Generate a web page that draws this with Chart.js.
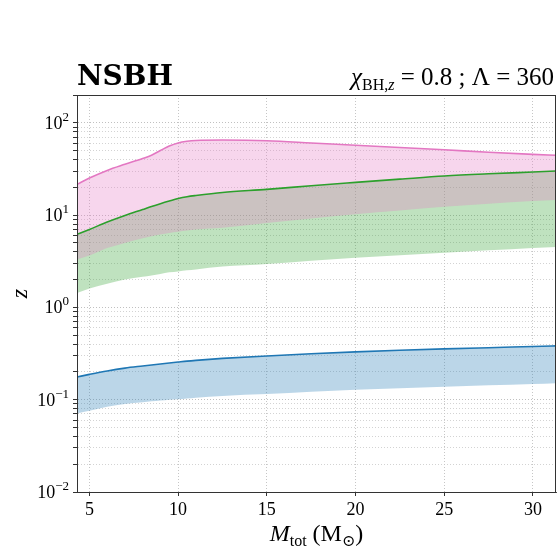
<!DOCTYPE html>
<html>
<head>
<meta charset="utf-8">
<script src="https://cdn.jsdelivr.net/npm/chart.js@4"></script>
<style>
  html, body { margin: 0; padding: 0; background: #fff; }
  #wrap { width: 560px; height: 549px; }
</style>
</head>
<body>
<div id="wrap"><canvas id="chart" width="560" height="549"></canvas></div>
<script>
// total mass (M_sun)
const mass = [4.3, 5, 6, 7, 8, 8.5, 9, 9.5, 10, 10.5, 11, 12.5, 15, 17.5, 20, 22.5, 25, 27.5, 30, 31.3];

// pink band (upper line + lower edge)
const pinkHigh = [21.5, 25.2, 30.5, 35.5, 41, 44.5, 50, 56, 60.5, 63, 64.3, 65, 64, 60.5, 57, 54, 51, 48, 45.5, 44.5];
const pinkLow = [3.3, 3.65, 4.4, 5.0, 5.6, 5.9, 6.15, 6.4, 6.6, 6.8, 7.0, 7.3, 8.2, 9.2, 10.2, 11.2, 12.3, 13.3, 14.2, 14.6];

// green band
const greenHigh = [6.2, 7.0, 8.4, 9.9, 11.5, 12.4, 13.3, 14.2, 15.1, 15.8, 16.3, 17.6, 19.0, 20.8, 22.6, 24.5, 26.5, 28.0, 29.3, 30];
const greenLow = [1.43, 1.6, 1.8, 2.0, 2.15, 2.22, 2.3, 2.4, 2.45, 2.52, 2.58, 2.77, 2.95, 3.2, 3.44, 3.67, 3.9, 4.15, 4.4, 4.5];

// blue band
const blueHigh = [0.176, 0.188, 0.205, 0.22, 0.232, 0.238, 0.244, 0.25, 0.256, 0.262, 0.267, 0.28, 0.298, 0.315, 0.33, 0.343, 0.355, 0.366, 0.377, 0.383];
const blueLow = [0.071, 0.076, 0.084, 0.09, 0.094, 0.096, 0.098, 0.1, 0.101, 0.103, 0.105, 0.11, 0.115, 0.122, 0.128, 0.133, 0.138, 0.143, 0.148, 0.151];

const xTicks = [5, 10, 15, 20, 25, 30];
const yDecades = [0.01, 0.1, 1, 10, 100];
const yExponents = ['\u22122', '\u22121', '0', '1', '2'];

const PINK = '#e377c2', GREEN = '#2ca02c', BLUE = '#1f77b4';
const SERIF = '"Liberation Serif", "DejaVu Serif", serif';

function pts(ys) {
    return mass.map((m, i) => ({ x: m, y: ys[i] }));
}

function edge(ys, order) {
    return { data: pts(ys), borderWidth: 0, pointRadius: 0, fill: false, order: order };
}

function band(ys, target, color, order) {
    return {
        data: pts(ys), borderWidth: 0, pointRadius: 0, order: order,
        fill: { target: target }, backgroundColor: color
    };
}

function line(ys, color) {
    return {
        data: pts(ys), borderColor: color, borderWidth: 1.6, pointRadius: 0,
        fill: false, order: 0
    };
}

function isDecade(v) {
    return yDecades.some(d => Math.abs(d - v) / d < 1e-6);
}

// draws runs of text: [text, font, dy]
function richWidth(ctx, parts) {
    let w = 0;
    parts.forEach(p => { ctx.font = p[1]; w += ctx.measureText(p[0]).width; });
    return w;
}
function drawRich(ctx, parts, x, y) {
    parts.forEach(p => {
        ctx.font = p[1];
        ctx.fillText(p[0], x, y + (p[2] || 0));
        x += ctx.measureText(p[0]).width;
    });
}

const decorPlugin = {
    id: 'decor',
    afterDraw(chart) {
        const ctx = chart.ctx;
        const a = chart.chartArea;
        ctx.save();
        // frame
        ctx.strokeStyle = '#333';
        ctx.lineWidth = 1;
        ctx.strokeRect(a.left + 0.5, a.top + 0.5, a.right - a.left - 1, a.bottom - a.top);

        ctx.fillStyle = '#000';
        ctx.textBaseline = 'alphabetic';
        ctx.textAlign = 'left';

        const big = '24px ' + SERIF, small = '16px ' + SERIF;
        const bigI = 'italic 24px ' + SERIF, smallI = 'italic 16px ' + SERIF;

        // y tick labels, 10^n
        const ys = chart.scales.y;
        yDecades.forEach((d, i) => {
            const parts = [['10', '18px ' + SERIF, 0], [yExponents[i], '13px ' + SERIF, -8]];
            const py = ys.getPixelForValue(d);
            drawRich(ctx, parts, a.left - 8 - richWidth(ctx, parts), py + 6);
        });

        // left title
        ctx.font = 'bold 28px "DejaVu Serif", serif';
        ctx.fillText('NSBH', a.left, 85);

        // right title
        const right = [
            ['\u03C7', 'italic 25px ' + SERIF, 0], ['BH,', small, 5], ['z', smallI, 5],
            [' = 0.8 ; \u039B = 360', '25px ' + SERIF, 0]
        ];
        drawRich(ctx, right, a.right - 2 - richWidth(ctx, right), 85);

        // x label
        const xl = [
            ['M', bigI, 0], ['tot', small, 5], [' (M', big, 0], ['\u2299', small, 5], [')', big, 0]
        ];
        drawRich(ctx, xl, (a.left + a.right) / 2 - richWidth(ctx, xl) / 2, 541);

        // y label
        ctx.translate(27, (a.top + a.bottom) / 2);
        ctx.rotate(-Math.PI / 2);
        ctx.textAlign = 'center';
        ctx.font = bigI;
        ctx.fillText('z', 0, 0);
        ctx.restore();
    }
};

const ctx = document.getElementById('chart').getContext('2d');
new Chart(ctx, {
    type: 'line',
    data: {
        datasets: [
            edge(pinkLow, 10),            // 0
            band(pinkHigh, 0, 'rgba(227,119,194,0.3)', 4),   // 1
            edge(greenLow, 10),           // 2
            band(greenHigh, 2, 'rgba(44,160,44,0.3)', 6),    // 3
            edge(blueLow, 10),            // 4
            band(blueHigh, 4, 'rgba(31,119,180,0.3)', 6),    // 5
            line(pinkHigh, PINK),
            line(greenHigh, GREEN),
            line(blueHigh, BLUE)
        ]
    },
    options: {
        responsive: false,
        animation: false,
        layout: { padding: { top: 95, right: 4, left: 0, bottom: 0 } },
        elements: { line: { cubicInterpolationMode: 'monotone' } },
        plugins: {
            legend: { display: false },
            tooltip: { enabled: false },
            filler: { propagate: false }
        },
        scales: {
            x: {
                type: 'linear',
                min: 4.3,
                max: 31.3,
                afterBuildTicks: s => { s.ticks = xTicks.map(v => ({ value: v })); },
                afterFit: s => { s.height = 57; },
                ticks: {
                    autoSkip: false,
                    maxRotation: 0,
                    padding: 3,
                    color: '#000',
                    font: { family: SERIF, size: 18 },
                    callback: v => String(v)
                },
                grid: {
                    color: '#b8b8b8',
                    lineWidth: 0.8,
                    tickLength: 4,
                    tickColor: '#333',
                    tickWidth: 1
                },
                border: { display: true, color: '#333', width: 1, dash: [1, 2] }
            },
            y: {
                type: 'logarithmic',
                min: 0.01,
                max: 200,
                afterBuildTicks: s => {
                    const t = [];
                    yDecades.forEach(d => {
                        for (let k = 1; k <= 9; k++) {
                            const v = d * k;
                            if (v <= 200 + 1e-9) t.push({ value: v });
                        }
                    });
                    s.ticks = t;
                },
                afterFit: s => { s.width = 77; },
                ticks: {
                    autoSkip: false,
                    padding: 4,
                    callback: () => ''
                },
                grid: {
                    color: c => (c.tick && isDecade(c.tick.value)) ? '#b0b0b0' : '#c8c8c8',
                    lineWidth: 0.8,
                    tickLength: 4,
                    tickColor: '#333',
                    tickWidth: 1
                },
                border: { display: true, color: '#333', width: 1, dash: [1, 2] }
            }
        }
    },
    plugins: [decorPlugin]
});
</script>
</body>
</html>
